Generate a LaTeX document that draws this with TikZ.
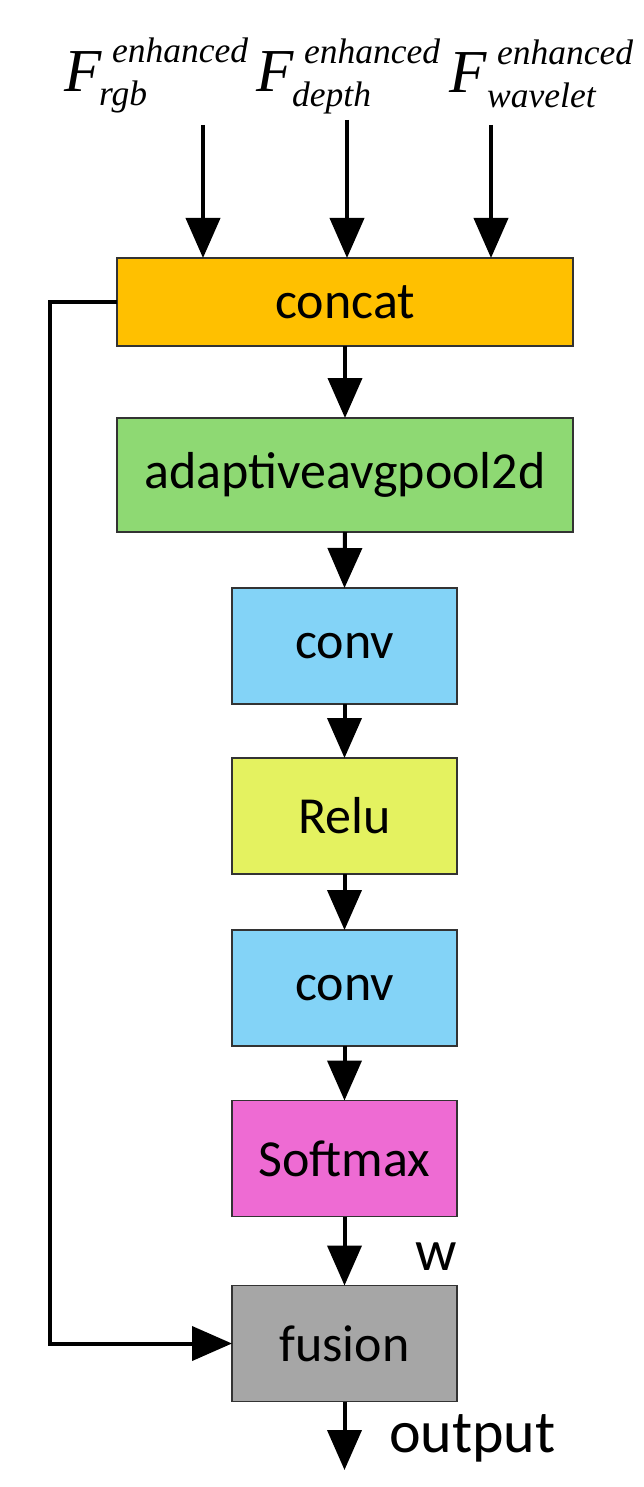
\documentclass[tikz,border=0pt]{standalone}
\usepackage{fontspec}
\setmainfont{Carlito}
\newfontfamily\tms{Liberation Serif}
\usetikzlibrary{arrows.meta}
\definecolor{cconcat}{HTML}{FFC000}
\definecolor{cpool}{HTML}{8ED973}
\definecolor{cconv}{HTML}{83D3F7}
\definecolor{crelu}{HTML}{E4F260}
\definecolor{csoft}{HTML}{EE6BD3}
\definecolor{cfuse}{HTML}{A6A6A6}
\tikzset{
  blk/.style={draw=black!80, line width=1.3pt, inner sep=0pt, outer sep=0pt,
    font=\fontsize{52}{52}\selectfont},
  wide/.style={blk, minimum width=456pt},
  narrow/.style={blk, minimum width=225pt, minimum height=116pt},
  arr/.style={line width=4pt, -{Triangle[width=34pt,length=40pt]}},
  bigF/.style={inner sep=0pt, anchor=base west, font=\fontsize{61}{61}\tms\itshape},
  supscr/.style={inner sep=0pt, anchor=base west, font=\fontsize{35.5}{35.5}\tms\itshape},
  lbl/.style={inner sep=0pt, anchor=base west, font=\fontsize{58}{58}\selectfont}
}
\begin{document}
\begin{tikzpicture}[x=1pt, y=-1pt]
\useasboundingbox (0,0) rectangle (643,1487);

% input feature labels
\node[bigF] (F1) at (64,92) {F};
\node[supscr] (F1sup) at (112,63) {enhanced};
\node[supscr] (F1sub) at (99,106) {rgb};
\node[bigF] (F2) at (256,92) {F};
\node[supscr] (F2sup) at (304,64) {enhanced};
\node[supscr] (F2sub) at (292,107) {depth};
\node[bigF] (F3) at (449,93) {F};
\node[supscr] (F3sup) at (497,65) {enhanced};
\node[supscr] (F3sub) at (487,108) {wavelet};

% processing blocks
\node[wide, minimum height=88pt, fill=cconcat] (concat) at (345,302) {concat};
\node[wide, minimum height=114pt, fill=cpool] (pool) at (345,475) {adaptiveavgpool2d};
\node[narrow, fill=cconv] (conv1) at (344.5,646) {conv};
\node[narrow, fill=crelu] (relu) at (344.5,816) {Relu};
\node[narrow, fill=cconv] (conv2) at (344.5,988) {conv};
\node[narrow, fill=csoft] (soft) at (344.5,1158.5) {Softmax};
\node[narrow, fill=cfuse] (fusion) at (344.5,1343.5) {fusion};

\node[lbl] (wlbl) at (415,1270) {w};
\node[lbl, font=\fontsize{60}{60}\selectfont] (outlbl) at (389,1452) {output};

% inputs into concat
\coordinate (in1) at (203,125);
\coordinate (in2) at (347,120);
\coordinate (in3) at (491,125);
\draw[arr] (in1) -- (in1 |- concat.north);
\draw[arr] (in2) -- (in2 |- concat.north);
\draw[arr] (in3) -- (in3 |- concat.north);

% main chain
\draw[arr] (concat.south) -- (pool.north);
\draw[arr] (pool.south) -- (conv1.north);
\draw[arr] (conv1.south) -- (relu.north);
\draw[arr] (relu.south) -- (conv2.north);
\draw[arr] (conv2.south) -- (soft.north);
\draw[arr] (soft.south) -- (fusion.north);
\coordinate (outend) at (344.5,1470);
\draw[arr] (fusion.south) -- (outend);

% skip connection from concat to fusion
\coordinate (fb) at (50,302);
\draw[arr] (concat.west) -- (fb) |- (fusion.west);
\end{tikzpicture}
\end{document}
